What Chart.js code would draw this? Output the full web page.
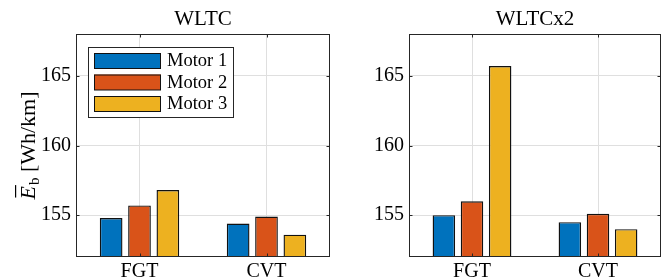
<!DOCTYPE html>
<html>
<head>
<meta charset="utf-8">
<script src="https://cdn.jsdelivr.net/npm/chart.js@4.4.1/dist/chart.umd.min.js"></script>
<style>
  html, body { margin: 0; padding: 0; background: #fff; }
  #wrap { position: relative; width: 667px; height: 280px; }
  canvas { position: absolute; top: 0; }
</style>
</head>
<body>
<div id="wrap">
  <canvas id="left" width="340" height="280" style="left:0"></canvas>
  <canvas id="right" width="332" height="280" style="left:335px"></canvas>
</div>
<script>
// data
const categories = ['FGT', 'CVT'];
const motors = ['Motor 1', 'Motor 2', 'Motor 3'];
const yTicks = [155, 160, 165];

const wltcMotor1 = [154.8, 154.4];
const wltcMotor2 = [155.7, 154.9];
const wltcMotor3 = [156.8, 153.6];

const wltcx2Motor1 = [155.0, 154.5];
const wltcx2Motor2 = [156.0, 155.1];
const wltcx2Motor3 = [165.7, 154.0];

const colors = ['#0072BD', '#D95319', '#EDB120'];
const FONT = '"Liberation Serif", serif';
const AXIS = '#262626';

// MATLAB-like box, inward ticks, title, legend and y label
const matlabAxes = {
    id: 'matlabAxes',
    afterDraw(chart, args, opts) {
        const ctx = chart.ctx;
        const a = chart.chartArea;
        const L = Math.round(a.left) + 0.5, R = Math.round(a.right) - 0.5;
        const T = Math.round(a.top) + 0.5, B = Math.round(a.bottom) - 0.5;
        const ys = chart.scales.y, xs = chart.scales.x;
        ctx.save();
        ctx.strokeStyle = AXIS;
        ctx.lineWidth = 1;
        ctx.strokeRect(L, T, R - L, B - T);
        ctx.beginPath();
        yTicks.forEach(v => {
            const y = Math.round(ys.getPixelForValue(v)) + 0.5;
            ctx.moveTo(L, y); ctx.lineTo(L + 3, y);
            ctx.moveTo(R, y); ctx.lineTo(R - 3, y);
        });
        categories.forEach((c, i) => {
            const x = Math.round(xs.getPixelForValue(i)) + 0.5;
            ctx.moveTo(x, B); ctx.lineTo(x, B - 3);
            ctx.moveTo(x, T); ctx.lineTo(x, T + 3);
        });
        ctx.stroke();

        // title
        ctx.fillStyle = '#000';
        ctx.font = '21px ' + FONT;
        ctx.textAlign = 'center';
        ctx.textBaseline = 'alphabetic';
        ctx.fillText(opts.title, (a.left + a.right) / 2, 25);

        if (opts.legend) {
            const lx = a.left + 12, ly = a.top + 13;
            ctx.fillStyle = '#fff';
            ctx.fillRect(lx, ly, 145, 70);
            ctx.strokeStyle = AXIS;
            ctx.strokeRect(lx + 0.5, ly + 0.5, 145, 70);
            const rows = [6, 27.5, 49];
            chart.data.datasets.forEach((ds, i) => {
                ctx.fillStyle = ds.backgroundColor;
                ctx.fillRect(lx + 6, ly + rows[i], 67, 15.5);
                ctx.strokeStyle = '#111';
                ctx.strokeRect(lx + 6.5, ly + rows[i] + 0.5, 66, 15);
                ctx.fillStyle = '#000';
                ctx.font = '18.5px ' + FONT;
                ctx.textAlign = 'left';
                ctx.textBaseline = 'middle';
                ctx.fillText(ds.label, lx + 79, ly + rows[i] + 8.5);
            });
        }

        if (opts.ylabel) {
            ctx.translate(35, (a.top + a.bottom) / 2);
            ctx.rotate(-Math.PI / 2);
            ctx.textBaseline = 'alphabetic';
            ctx.textAlign = 'left';
            const fE = 'italic 22px ' + FONT, fSub = '15px ' + FONT, fRest = '22px ' + FONT;
            ctx.font = fE; const wE = ctx.measureText('E').width;
            ctx.font = fSub; const wS = ctx.measureText('b').width;
            ctx.font = fRest; const wR = ctx.measureText(' [Wh/km]').width;
            let x = -(wE + wS + 1 + wR) / 2;
            ctx.fillStyle = '#000';
            ctx.font = fE; ctx.fillText('E', x, 0);
            ctx.fillRect(x + 2, -20, wE - 1, 1.2);
            x += wE + 1;
            ctx.font = fSub; ctx.fillText('b', x, 4);
            x += wS;
            ctx.font = fRest; ctx.fillText(' [Wh/km]', x, 0);
        }
        ctx.restore();
    }
};

function makeChart(id, series, opts) {
    const ctx = document.getElementById(id);
    new Chart(ctx, {
        type: 'bar',
        data: {
            labels: categories,
            datasets: series.map((d, i) => ({
                label: motors[i],
                data: d,
                backgroundColor: colors[i],
                borderColor: '#111',
                borderWidth: 1.4,
                borderSkipped: false,
                categoryPercentage: 0.67,
                barPercentage: 0.8
            }))
        },
        options: {
            responsive: false,
            animation: false,
            devicePixelRatio: 1,
            layout: {padding: {left: opts.padLeft, right: opts.padRight, top: 34, bottom: 0}},
            scales: {
                x: {
                    afterFit: s => { s.height = 23; },
                    grid: {offset: false, color: '#dfdfdf', drawTicks: false},
                    border: {display: false},
                    ticks: {color: '#000', font: {family: FONT, size: 20}, padding: 3}
                },
                y: {
                    min: 152, max: 168,
                    afterFit: s => { s.width = opts.yWidth; },
                    afterBuildTicks: s => { s.ticks = yTicks.map(v => ({value: v})); },
                    grid: {color: '#dfdfdf', drawTicks: false},
                    border: {display: false},
                    ticks: {color: '#000', font: {family: FONT, size: 20}, padding: 5}
                }
            },
            plugins: {
                legend: {display: false},
                tooltip: {enabled: false},
                matlabAxes: opts
            }
        },
        plugins: [matlabAxes]
    });
}

makeChart('left', [wltcMotor1, wltcMotor2, wltcMotor3],
    {title: 'WLTC', legend: true, ylabel: true, padLeft: 0, padRight: 10, yWidth: 76});
makeChart('right', [wltcx2Motor1, wltcx2Motor2, wltcx2Motor3],
    {title: 'WLTCx2', legend: false, ylabel: false, padLeft: 0, padRight: 6, yWidth: 74});
</script>
</body>
</html>
